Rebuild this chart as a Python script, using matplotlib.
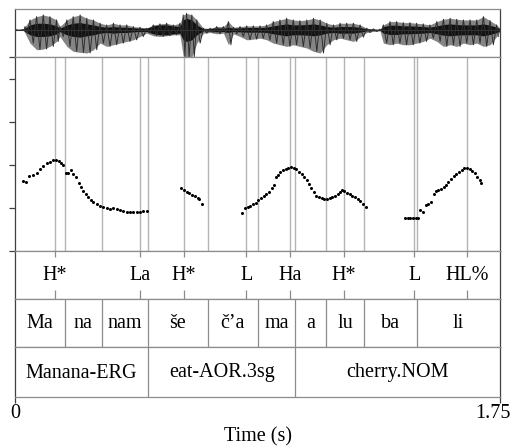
import matplotlib
matplotlib.use("Agg")
import matplotlib.pyplot as plt

plt.rcParams['font.family'] = ['Liberation Serif', 'DejaVu Serif']

# --- data -------------------------------------------------------------
t_end = 1.75

# waveform envelope (time s, upper, lower, dark core half width)
wave_t = [0.0, 0.030, 0.036, 0.054, 0.078, 0.102, 0.126, 0.150, 0.162, 0.187,
          0.210, 0.235, 0.259, 0.283, 0.307, 0.331, 0.355, 0.379, 0.403, 0.427,
          0.451, 0.475, 0.499, 0.523, 0.547, 0.571, 0.595, 0.607, 0.619, 0.638,
          0.656, 0.680, 0.704, 0.728, 0.752, 0.770, 0.788, 0.812, 0.836, 0.860,
          0.884, 0.908, 0.932, 0.956, 0.980, 1.004, 1.028, 1.053, 1.077, 1.101,
          1.125, 1.149, 1.173, 1.197, 1.221, 1.245, 1.269, 1.293, 1.317, 1.329,
          1.353, 1.377, 1.401, 1.425, 1.449, 1.473, 1.497, 1.522, 1.546, 1.570,
          1.594, 1.618, 1.642, 1.666, 1.690, 1.714, 1.738, 1.750]
wave_hi = [0.01, 0.01, 0.10, 0.30, 0.40, 0.45, 0.40, 0.30, 0.10, 0.30,
           0.40, 0.45, 0.35, 0.30, 0.20, 0.15, 0.20, 0.15, 0.15, 0.10,
           0.08, 0.05, 0.15, 0.18, 0.20, 0.15, 0.20, 0.45, 0.50, 0.45,
           0.30, 0.05, 0.05, 0.10, 0.10, 0.25, 0.08, 0.10, 0.12, 0.12,
           0.12, 0.15, 0.25, 0.30, 0.35, 0.30, 0.28, 0.30, 0.35, 0.30,
           0.20, 0.15, 0.20, 0.20, 0.20, 0.15, 0.05, 0.03, 0.02, 0.15,
           0.25, 0.25, 0.22, 0.22, 0.20, 0.18, 0.15, 0.25, 0.32, 0.35,
           0.32, 0.30, 0.30, 0.30, 0.40, 0.28, 0.15, 0.05]
wave_lo = [-0.01, -0.01, -0.10, -0.40, -0.60, -0.58, -0.50, -0.35, -0.20, -0.50,
           -0.65, -0.68, -0.70, -0.60, -0.40, -0.50, -0.45, -0.40, -0.35, -0.30,
           -0.20, -0.10, -0.18, -0.20, -0.18, -0.15, -0.15, -0.80, -0.82, -0.82,
           -0.40, -0.10, -0.08, -0.12, -0.10, -0.45, -0.12, -0.20, -0.30, -0.28,
           -0.25, -0.30, -0.40, -0.45, -0.50, -0.45, -0.50, -0.55, -0.65, -0.70,
           -0.45, -0.30, -0.25, -0.30, -0.35, -0.22, -0.08, -0.05, -0.03, -0.40,
           -0.45, -0.40, -0.45, -0.45, -0.40, -0.35, -0.25, -0.35, -0.50, -0.45,
           -0.50, -0.40, -0.45, -0.40, -0.50, -0.45, -0.20, -0.05]
wave_core = [0.01, 0.01, 0.05, 0.15, 0.20, 0.20, 0.18, 0.12, 0.05, 0.15,
             0.20, 0.22, 0.18, 0.15, 0.10, 0.08, 0.10, 0.08, 0.08, 0.06,
             0.05, 0.05, 0.12, 0.15, 0.15, 0.12, 0.10, 0.30, 0.35, 0.30,
             0.15, 0.03, 0.04, 0.06, 0.05, 0.08, 0.05, 0.06, 0.07, 0.07,
             0.07, 0.08, 0.12, 0.15, 0.18, 0.15, 0.15, 0.16, 0.18, 0.15,
             0.10, 0.08, 0.10, 0.10, 0.10, 0.07, 0.03, 0.02, 0.01, 0.10,
             0.14, 0.14, 0.12, 0.12, 0.11, 0.10, 0.08, 0.12, 0.16, 0.18,
             0.16, 0.15, 0.15, 0.15, 0.18, 0.14, 0.08, 0.03]

# pitch track (time s, Hz), one list per voiced stretch
f0_t1 = [0.028, 0.040, 0.051, 0.065, 0.078, 0.090, 0.101, 0.114, 0.126, 0.138,
         0.148, 0.158, 0.166, 0.174, 0.183, 0.192, 0.202, 0.210, 0.220, 0.230,
         0.237, 0.246, 0.256, 0.264, 0.273, 0.283, 0.295, 0.307, 0.319, 0.331,
         0.343, 0.355, 0.367, 0.379, 0.391, 0.403, 0.415, 0.427, 0.439, 0.451,
         0.463, 0.475]
f0_h1 = [181.4, 180.6, 187.2, 187.8, 190.7, 195.3, 199.2, 202.3, 203.8, 205.8,
         206.2, 204.7, 202.7, 199.7, 191.0, 191.0, 194.2, 189.5, 185.7, 179.4,
         174.8, 169.4, 165.9, 162.8, 159.6, 157.0, 154.3, 152.7, 151.5, 150.0,
         149.2, 149.7, 148.5, 147.3, 146.2, 145.3, 145.0, 145.0, 145.7, 145.3,
         146.2, 146.5]
f0_t2 = [0.599, 0.610, 0.620, 0.629, 0.640, 0.650, 0.659, 0.665, 0.674]
f0_h2 = [172.9, 170.6, 168.6, 167.1, 165.1, 163.6, 161.9, 160.1, 154.3]
f0_t3 = [0.820, 0.830, 0.840, 0.849, 0.859, 0.869, 0.878, 0.888, 0.897, 0.907,
         0.916, 0.926, 0.933, 0.941, 0.948, 0.957, 0.967, 0.977, 0.986, 0.996,
         1.006, 1.015, 1.025, 1.034, 1.044, 1.054, 1.061, 1.068, 1.078, 1.087,
         1.097, 1.107, 1.116, 1.126, 1.136, 1.145, 1.155, 1.164, 1.174, 1.181,
         1.188, 1.198, 1.208, 1.217, 1.227, 1.237, 1.246, 1.256, 1.265]
f0_h3 = [143.8, 149.7, 151.2, 152.7, 154.3, 156.2, 159.0, 161.3, 163.6, 165.9,
         169.0, 172.9, 176.7, 185.7, 188.4, 191.5, 193.8, 195.7, 196.9, 197.3,
         196.9, 195.0, 192.2, 189.9, 186.0, 182.2, 177.6, 172.9, 168.3, 164.3,
         162.4, 161.3, 160.8, 160.8, 161.6, 162.4, 164.0, 165.9, 168.6, 170.6,
         169.8, 167.8, 166.3, 164.3, 162.8, 160.5, 157.8, 154.3, 151.2]
f0_t4 = [1.407, 1.417, 1.426, 1.436, 1.446, 1.453, 1.461, 1.471, 1.482, 1.491,
         1.501, 1.511, 1.518, 1.527, 1.537, 1.547, 1.556, 1.563, 1.573, 1.583,
         1.592, 1.602, 1.612, 1.621, 1.631, 1.641, 1.650, 1.660, 1.667, 1.677,
         1.683]
f0_h4 = [138.7, 138.7, 138.7, 138.7, 138.7, 138.9, 147.7, 145.0, 153.5, 155.0,
         157.3, 166.6, 170.1, 170.6, 172.1, 174.8, 177.1, 179.9, 183.4, 187.2,
         189.5, 191.9, 194.2, 196.2, 196.5, 195.7, 193.4, 190.3, 186.4, 182.6,
         178.7]

# annotation tiers
tone_t = [0.145, 0.450, 0.609, 0.835, 0.991, 1.188, 1.441, 1.632]
tone_lab = ["H*", "La", "H*", "L", "Ha", "H*", "L", "HL%"]
syl_b = [0.0, 0.179, 0.313, 0.481, 0.695, 0.876, 1.011, 1.123, 1.259, 1.449, 1.75]
syl_lab = ["Ma", "na", "nam", "še", "č’a", "ma", "a", "lu", "ba", "li"]
word_b = [0.0, 0.481, 1.011, 1.75]
word_lab = ["Manana-ERG", "eat-AOR.3sg", "cherry.NOM"]

# --- layout -----------------------------------------------------------
W, H = 515, 447
fig = plt.figure(figsize=(W / 100, H / 100), dpi=100)
L, R = 15, 500
FS = 14.5
frame = '#404040'
inner = '#8c8c8c'


def px_axes(top, bottom):
    ax = fig.add_axes([L / W, 1 - bottom / H, (R - L) / W, (bottom - top) / H])
    ax.set_xlim(0, t_end)
    ax.set_xticks([])
    ax.set_yticks([])
    for s in ax.spines.values():
        s.set_color(inner)
        s.set_linewidth(0.9)
    ax.spines['left'].set_color(frame)
    ax.spines['right'].set_color(frame)
    return ax


# waveform: light envelope, zigzag between the envelope values, dark core
axw = px_axes(9, 57)
axw.set_ylim(-0.82, 0.63)
axw.fill_between(wave_t, wave_lo, wave_hi, color='#858585', lw=0)
zz_t, zz_a = [], []
for i in range(len(wave_t) - 1):
    zz_t += [wave_t[i], (wave_t[i] + wave_t[i + 1]) / 2]
    zz_a += [wave_hi[i], wave_lo[i]]
axw.plot(zz_t, zz_a, color='#2e2e2e', lw=0.7)
axw.fill_between(wave_t, [-c for c in wave_core], wave_core, color='#121212', lw=0)
axw.axhline(0, color='#333333', lw=0.8)

# pitch
axp = px_axes(57, 251)
axp.set_ylim(100, 325.6)
all_marks = sorted(set(tone_t + syl_b[1:-1]))
for b in all_marks:
    axp.axvline(b, color='#b4b4b4', lw=1.0, zorder=1)
for tt, hh in [(f0_t1, f0_h1), (f0_t2, f0_h2), (f0_t3, f0_h3), (f0_t4, f0_h4)]:
    axp.plot(tt, hh, 'o', color='black', ms=2.2, mew=0, zorder=3)
axp.set_yticks([100, 150, 200, 250, 300, 325.6])
axp.tick_params(axis='y', direction='out', length=4, width=0.9,
                color=frame, labelleft=False)

# tone tier
axt = px_axes(251, 299)
axt.set_ylim(0, 1)
for tt, lab in zip(tone_t, tone_lab):
    axt.vlines(tt, 0.88, 1.0, color=inner, lw=0.9)
    axt.vlines(tt, 0.0, 0.18, color=inner, lw=0.9)
    axt.text(tt, 0.5, lab, ha='center', va='center', fontsize=FS)

# syllable tier
axs = px_axes(299, 347)
axs.set_ylim(0, 1)
for b in syl_b[1:-1]:
    axs.axvline(b, color=inner, lw=0.9)
for a, b, lab in zip(syl_b[:-1], syl_b[1:], syl_lab):
    axs.text((a + b) / 2, 0.48, lab, ha='center', va='center', fontsize=FS)

# word tier
axg = px_axes(347, 397)
axg.set_ylim(0, 1)
for b in word_b[1:-1]:
    axg.axvline(b, color=inner, lw=0.9)
for a, b, lab in zip(word_b[:-1], word_b[1:], word_lab):
    axg.text((a + b) / 2, 0.48, lab, ha='center', va='center', fontsize=FS)
axg.set_xticks([0, t_end])
axg.tick_params(axis='x', direction='out', length=4, width=0.9,
                color=frame, labelbottom=False)

fig.text(L / W, 1 - 413 / H, "0", ha='center', va='center', fontsize=FS)
fig.text(511 / W, 1 - 413 / H, "1.75", ha='right', va='center', fontsize=FS)
fig.text(258 / W, 1 - 437 / H, "Time (s)", ha='center', va='center', fontsize=FS)

fig.savefig("out.png", dpi=100)
